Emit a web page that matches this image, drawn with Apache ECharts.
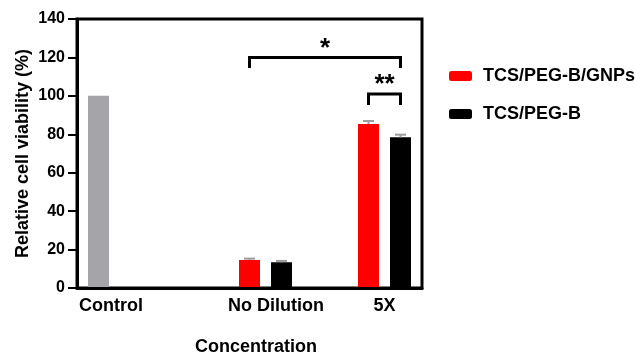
<!DOCTYPE html>
<html>
<head>
<meta charset="utf-8">
<script src="https://cdn.jsdelivr.net/npm/echarts@6/dist/echarts.min.js"></script>
<style>
    html, body { margin: 0; padding: 0; background: #fff; }
    #chart { width: 635px; height: 355px; }
</style>
</head>
<body>
<div id="chart"></div>
<script>
/*数据start*/
const categories = ['Control', 'No Dilution', '5X']
const seriesNames = ['Control', 'TCS/PEG-B/GNPs', 'TCS/PEG-B']
const controlData = [100, null, null]
const gnpsData = [null, 14.6, 85.4]
const pegData = [null, 13.4, 78.4]
const gnpsErr = [null, 0.7, 1.5]
const pegErr = [null, 0.7, 1.4]
// 显著性: 起始组, 起始系列, 结束组, 结束系列, 横线高度, 竖线底部, 标记
const sigFrom = [[1, 1], [2, 1]]
const sigTo = [[2, 2], [2, 2]]
const sigTop = [120, 101]
const sigEnd = [114.5, 95.3]
const sigLabel = ['*', '**']
/*数据end*/

const FONT = "'Liberation Sans', Arial, sans-serif"
const BAR_W = 21
const PITCH = 32  // 同组相邻柱子中心距离

let chart = echarts.init(document.getElementById('chart'), null, {renderer: 'canvas'})

function errData(vals, errs) {
    let out = []
    for (let i in vals) {
        if (vals[i] != null) out.push([+i, vals[i], errs[i]])
    }
    return out
}

function errorItem(seriesPos) {
    return function (params, api) {
        let top = api.coord([api.value(0), api.value(1) + api.value(2)])
        let base = api.coord([api.value(0), api.value(1)])
        let x = top[0] + (seriesPos - 1) * PITCH
        let st = {stroke: '#9c9c9c', lineWidth: 2}
        return {
            type: 'group', children: [
                {type: 'line', shape: {x1: x, y1: base[1], x2: x, y2: top[1]}, style: st},
                {type: 'line', shape: {x1: x - 5.5, y1: top[1], x2: x + 5.5, y2: top[1]}, style: st}
            ]
        }
    }
}

let sigData = []
for (let i in sigLabel) {
    sigData.push([sigFrom[i][0], sigFrom[i][1], sigTo[i][0], sigTo[i][1], sigTop[i], sigEnd[i]])
}

function sigItem(params, api) {
    let a = api.coord([api.value(0), api.value(4)])
    let b = api.coord([api.value(2), api.value(4)])
    let e = api.coord([api.value(0), api.value(5)])
    let x1 = a[0] + (api.value(1) - 1) * PITCH
    let x2 = b[0] + (api.value(3) - 1) * PITCH
    let y = a[1], y2 = e[1]
    return {
        type: 'group', children: [
            {
                type: 'polyline',
                shape: {points: [[x1, y2], [x1, y], [x2, y], [x2, y2]]},
                style: {stroke: '#000', lineWidth: 3, fill: null}
            },
            {
                type: 'text',
                style: {
                    text: sigLabel[params.dataIndex], x: (x1 + x2) / 2, y: y + 4,
                    align: 'center', verticalAlign: 'bottom',
                    font: 'bold 26px ' + FONT, fill: '#000'
                }
            }
        ]
    }
}

let option = {
    animation: false,
    textStyle: {fontFamily: FONT},
    legend: {
        data: [seriesNames[1], seriesNames[2]],
        orient: 'vertical',
        left: 444,
        top: 62,
        itemWidth: 23,
        itemHeight: 10,
        itemGap: 20,
        textStyle: {fontSize: 18, fontWeight: 'bold', color: '#000', padding: [0, 0, 0, 6]}
    },
    // grid 0: 坐标框和刻度; grid 1: 柱子 (两侧稍宽一点)
    grid: [
        {
            left: 77, right: 213, top: 19, bottom: 67, outerBoundsMode: 'none',
            show: true, borderColor: '#000', borderWidth: 3
        },
        {left: 71, right: 207, top: 19, bottom: 67, outerBoundsMode: 'none'}
    ],
    xAxis: [
        {
            type: 'category',
            gridIndex: 0,
            z: 3,
            data: categories,
            name: 'Concentration',
            nameLocation: 'middle',
            nameGap: 50,
            nameMoveOverlap: false,
            nameTextStyle: {fontSize: 18, fontWeight: 'bold', color: '#000', padding: [0, 0, 0, 13]},
            axisLine: {lineStyle: {color: '#000', width: 3}},
            axisTick: {show: false},
            axisLabel: {
                margin: 9,
                formatter: function (v, i) {
                    return '{c' + i + '|' + v + '}'
                },
                rich: {
                    c0: {fontSize: 18, fontWeight: 'bold', color: '#000', padding: [0, 47, 0, 0]},
                    c1: {fontSize: 18, fontWeight: 'bold', color: '#000', padding: [0, 0, 0, 53]},
                    c2: {fontSize: 18, fontWeight: 'bold', color: '#000', padding: [0, 0, 0, 40]}
                }
            },
            splitLine: {show: false}
        },
        {type: 'category', gridIndex: 1, data: categories, show: false}
    ],
    yAxis: [
        {
            type: 'value',
            gridIndex: 0,
            min: 0, max: 140, interval: 20,
            name: 'Relative cell viability (%)',
            nameLocation: 'middle',
            nameGap: 45,
            nameMoveOverlap: false,
            nameTextStyle: {fontSize: 18, fontWeight: 'bold', color: '#000'},
            axisLine: {show: true, lineStyle: {color: '#000', width: 3}},
            axisTick: {show: true, inside: false, length: 9, lineStyle: {color: '#000', width: 2}},
            axisLabel: {inside: false, fontSize: 16, fontWeight: 'bold', color: '#000', margin: 12},
            splitLine: {show: false}
        },
        {type: 'value', gridIndex: 1, min: 0, max: 140, show: false, splitLine: {show: false}}
    ],
    series: [
        {
            name: seriesNames[0], type: 'bar', data: controlData, xAxisIndex: 1, yAxisIndex: 1,
            barWidth: BAR_W, barGap: ((PITCH - BAR_W) / BAR_W * 100) + '%',
            itemStyle: {color: '#a5a4a9'}
        },
        {
            name: seriesNames[1], type: 'bar', data: gnpsData, xAxisIndex: 1, yAxisIndex: 1,
            barWidth: BAR_W, itemStyle: {color: '#ff0000'}
        },
        {
            name: seriesNames[2], type: 'bar', data: pegData, xAxisIndex: 1, yAxisIndex: 1,
            barWidth: BAR_W, itemStyle: {color: '#000000'}
        },
        {
            type: 'custom', renderItem: errorItem(1), data: errData(gnpsData, gnpsErr),
            xAxisIndex: 1, yAxisIndex: 1, z: 5, silent: true
        },
        {
            type: 'custom', renderItem: errorItem(2), data: errData(pegData, pegErr),
            xAxisIndex: 1, yAxisIndex: 1, z: 5, silent: true
        },
        {
            type: 'custom', renderItem: sigItem, data: sigData,
            xAxisIndex: 1, yAxisIndex: 1, z: 6, silent: true
        }
    ]
}
chart.setOption(option)

window.onresize = function () {
    chart.resize()
}
</script>
</body>
</html>
